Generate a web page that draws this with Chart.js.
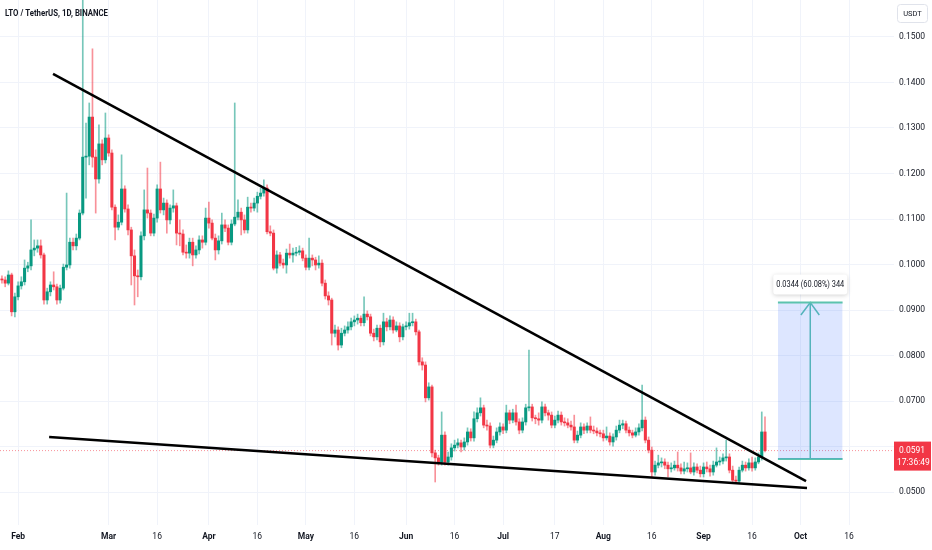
<!DOCTYPE html>
<html>
<head>
<meta charset="utf-8">
<script src="https://cdn.jsdelivr.net/npm/chart.js@4.4.0/dist/chart.umd.min.js"></script>
<style>html,body{margin:0;padding:0;background:#fff}canvas{display:block}</style>
</head>
<body>
<canvas id="chart" width="932" height="550"></canvas>
<script>
// day index: 0 = 1 Feb
const firstDay = -5;

const open = [
  .0968,.0966,.0959,.0977,.0896,.0929,.0953,.0962,.0992,.0997,
  .1032,.1036,.1041,.1021,.0922,.0940,.0955,.0951,.0922,.0948,
  .0994,.0999,.1049,.1041,.1058,.1113,.1236,.1238,.1324,.1236,
  .1188,.1265,.1230,.1278,.1245,.1126,.1082,.1093,.1166,.1122,
  .1076,.1019,.0975,.0973,.1063,.1120,.1113,.1069,.1102,.1166,
  .1120,.1135,.1098,.1124,.1129,.1069,.1067,.1027,.1025,.1049,
  .1021,.1032,.1054,.1049,.1102,.1091,.1058,.1032,.1052,.1087,
  .1080,.1049,.1089,.1104,.1115,.1098,.1076,.1126,.1124,.1135,
  .1150,.1157,.1168,.1072,.1069,.0992,.1021,.1003,.0999,.1025,
  .1021,.1025,.1027,.1030,.1014,.0994,.1014,.1010,.0999,.1003,
  .0959,.0931,.0922,.0849,.0856,.0823,.0849,.0856,.0863,.0874,
  .0878,.0882,.0872,.0891,.0885,.0849,.0841,.0860,.0830,.0874,
  .0863,.0878,.0856,.0865,.0841,.0863,.0865,.0872,.0874,.0852,
  .0786,.0779,.0707,.0731,.0586,.0575,.0566,.0625,.0566,.0577,
  .0597,.0603,.0608,.0599,.0610,.0632,.0619,.0661,.0674,.0685,
  .0647,.0645,.0603,.0614,.0632,.0643,.0636,.0674,.0658,.0674,
  .0654,.0636,.0654,.0685,.0687,.0663,.0661,.0658,.0687,.0674,
  .0669,.0647,.0658,.0669,.0654,.0652,.0647,.0643,.0614,.0625,
  .0643,.0636,.0645,.0636,.0634,.0630,.0628,.0619,.0623,.0610,
  .0621,.0636,.0647,.0650,.0636,.0630,.0625,.0632,.0641,.0658,
  .0614,.0592,.0544,.0559,.0564,.0566,.0559,.0551,.0553,.0559,
  .0553,.0546,.0551,.0553,.0544,.0555,.0548,.0540,.0555,.0551,
  .0544,.0559,.0566,.0568,.0575,.0577,.0548,.0526,.0524,.0548,
  .0559,.0553,.0564,.0553,.0566,.0577,.0632
];
const high = [
  .0975,.0973,.0986,.0981,.0937,.0962,.0973,.1010,.1005,.1098,
  .1054,.1054,.1054,.1025,.0948,.0962,.0984,.0957,.0955,.1001,
  .1157,.1058,.1058,.1067,.1120,.1600,.1311,.1355,.1474,.1252,
  .1307,.1274,.1333,.1285,.1252,.1131,.1109,.1241,.1173,.1131,
  .1082,.1032,.0988,.1072,.1164,.1212,.1120,.1111,.1175,.1225,
  .1146,.1142,.1131,.1164,.1135,.1098,.1076,.1043,.1058,.1058,
  .1041,.1063,.1063,.1124,.1137,.1098,.1067,.1063,.1113,.1098,
  .1087,.1098,.1355,.1142,.1124,.1109,.1148,.1135,.1146,.1159,
  .1168,.1186,.1175,.1085,.1076,.1030,.1027,.1012,.1034,.1045,
  .1036,.1038,.1041,.1036,.1021,.1058,.1021,.1016,.1019,.1010,
  .0966,.0940,.0926,.0867,.0863,.0860,.0865,.0874,.0882,.0887,
  .0891,.0887,.0929,.0898,.0891,.0858,.0867,.0867,.0893,.0882,
  .0887,.0885,.0874,.0872,.0869,.0874,.0893,.0893,.0880,.0856,
  .0795,.0786,.0740,.0735,.0592,.0581,.0676,.0632,.0588,.0606,
  .0614,.0617,.0614,.0619,.0641,.0639,.0676,.0685,.0707,.0691,
  .0658,.0652,.0623,.0641,.0652,.0650,.0691,.0680,.0682,.0691,
  .0661,.0663,.0693,.0812,.0693,.0669,.0674,.0698,.0693,.0680,
  .0676,.0667,.0678,.0676,.0663,.0661,.0656,.0669,.0634,.0652,
  .0650,.0652,.0665,.0645,.0641,.0636,.0636,.0643,.0630,.0628,
  .0645,.0658,.0658,.0656,.0643,.0636,.0641,.0650,.0735,.0665,
  .0621,.0599,.0568,.0581,.0575,.0573,.0566,.0564,.0568,.0588,
  .0562,.0566,.0564,.0586,.0564,.0562,.0557,.0564,.0566,.0559,
  .0568,.0597,.0577,.0584,.0614,.0584,.0557,.0535,.0555,.0568,
  .0566,.0573,.0577,.0575,.0586,.0676,.0665
];
const low = [
  .0959,.0951,.0955,.0887,.0885,.0922,.0946,.0955,.0984,.0988,
  .1019,.1027,.1014,.0913,.0913,.0931,.0944,.0913,.0915,.0944,
  .0988,.0992,.1032,.1032,.1054,.1109,.1146,.1219,.1214,.1113,
  .1179,.1219,.1223,.1238,.1120,.1054,.1076,.1087,.1115,.1065,
  .0955,.0911,.0929,.0966,.1054,.1102,.1063,.1063,.1093,.1113,
  .1109,.1069,.1089,.1115,.1043,.1041,.1021,.1014,.1014,.0997,
  .1014,.1023,.1036,.1043,.1080,.1054,.1010,.1023,.1045,.1072,
  .1043,.1043,.1085,.1098,.1065,.1069,.1069,.1115,.1118,.1115,
  .1144,.1150,.1067,.1063,.0988,.0981,.0997,.0992,.0981,.1014,
  .1005,.1019,.1021,.1008,.0988,.0988,.0997,.0988,.0992,.0953,
  .0924,.0911,.0823,.0841,.0812,.0817,.0843,.0849,.0856,.0865,
  .0869,.0865,.0865,.0878,.0843,.0832,.0834,.0819,.0823,.0854,
  .0856,.0849,.0852,.0830,.0834,.0856,.0858,.0865,.0845,.0779,
  .0768,.0698,.0702,.0577,.0522,.0559,.0559,.0559,.0559,.0570,
  .0590,.0597,.0588,.0592,.0603,.0612,.0612,.0654,.0667,.0641,
  .0636,.0597,.0597,.0608,.0625,.0628,.0630,.0650,.0652,.0647,
  .0628,.0630,.0647,.0678,.0656,.0650,.0647,.0652,.0667,.0658,
  .0641,.0641,.0652,.0647,.0645,.0641,.0636,.0608,.0608,.0619,
  .0628,.0630,.0630,.0628,.0623,.0621,.0612,.0614,.0603,.0601,
  .0614,.0630,.0639,.0630,.0623,.0619,.0621,.0625,.0634,.0608,
  .0586,.0533,.0537,.0553,.0555,.0551,.0533,.0544,.0548,.0546,
  .0540,.0540,.0544,.0540,.0537,.0542,.0533,.0533,.0544,.0535,
  .0537,.0555,.0559,.0562,.0568,.0542,.0522,.0520,.0520,.0544,
  .0546,.0548,.0546,.0548,.0562,.0570,.0588
];
const close = [
  .0966,.0959,.0977,.0896,.0929,.0953,.0962,.0992,.0997,.1032,
  .1036,.1041,.1021,.0922,.0940,.0955,.0951,.0922,.0948,.0994,
  .0999,.1049,.1041,.1058,.1113,.1236,.1238,.1324,.1236,.1188,
  .1265,.1230,.1278,.1245,.1126,.1082,.1093,.1166,.1122,.1076,
  .1019,.0975,.0973,.1063,.1120,.1113,.1069,.1102,.1166,.1120,
  .1135,.1098,.1124,.1129,.1069,.1067,.1027,.1025,.1049,.1021,
  .1032,.1054,.1049,.1102,.1091,.1058,.1032,.1052,.1087,.1080,
  .1049,.1089,.1104,.1115,.1098,.1076,.1126,.1124,.1135,.1150,
  .1157,.1168,.1072,.1069,.0992,.1021,.1003,.0999,.1025,.1021,
  .1025,.1027,.1030,.1014,.0994,.1014,.1010,.0999,.1003,.0959,
  .0931,.0922,.0849,.0856,.0823,.0849,.0856,.0863,.0874,.0878,
  .0882,.0872,.0891,.0885,.0849,.0841,.0860,.0830,.0874,.0863,
  .0878,.0856,.0865,.0841,.0863,.0865,.0872,.0874,.0852,.0786,
  .0779,.0707,.0731,.0586,.0575,.0566,.0625,.0566,.0577,.0597,
  .0603,.0608,.0599,.0610,.0632,.0619,.0661,.0674,.0685,.0647,
  .0645,.0603,.0614,.0632,.0643,.0636,.0674,.0658,.0674,.0654,
  .0636,.0654,.0685,.0687,.0663,.0661,.0658,.0687,.0674,.0669,
  .0647,.0658,.0669,.0654,.0652,.0647,.0643,.0614,.0625,.0643,
  .0636,.0645,.0636,.0634,.0630,.0628,.0619,.0623,.0610,.0621,
  .0636,.0647,.0650,.0636,.0630,.0625,.0632,.0641,.0658,.0614,
  .0592,.0544,.0559,.0564,.0566,.0559,.0551,.0553,.0559,.0553,
  .0546,.0551,.0553,.0544,.0555,.0548,.0540,.0555,.0551,.0544,
  .0559,.0566,.0568,.0575,.0577,.0548,.0526,.0524,.0548,.0559,
  .0553,.0564,.0553,.0566,.0577,.0632,.0591
];
const days = close.map((_, i) => firstDay + i);

const tickDays   = [0, 28, 43, 59, 74, 89, 104, 120, 135, 150, 166, 181, 196, 212, 227, 242, 257];
const tickLabels = ['Feb', 'Mar', '16', 'Apr', '16', 'May', '16', 'Jun', '16', 'Jul', '17', 'Aug', '16', 'Sep', '16', 'Oct', '16'];
const priceTicks = [0.05, 0.06, 0.07, 0.08, 0.09, 0.10, 0.11, 0.12, 0.13, 0.14, 0.15];

// drawn trend lines (day, price)
const upperLineDays = [10.8, 243.7];
const upperLinePrices = [0.1419, 0.0524];
const lowerLineDays = [9.6, 244.0];
const lowerLinePrices = [0.0621, 0.0509];

// measure tool
const targetDays = [235, 255];
const targetBase = 0.05726;
const targetTop = 0.09166;
const arrowDays = [242.1, 245, 247.8];
const arrowPrices = [0.0889, 0.09166, 0.0889];
const targetText = '0.0344 (60.08%) 344';

const lastPrice = 0.0591;
const countdown = '17:36:49';
const title = 'LTO / TetherUS, 1D, BINANCE';

const xMin = -5.6, xMax = 270.9;
const yMin = 0.04275, yMax = 0.15813;

const UP = '#089981', DOWN = '#f23645';
const UP_WICK = 'rgba(8,153,129,0.55)', DOWN_WICK = 'rgba(242,54,69,0.55)';
const TEAL = '#5cc3ae';
const FONT = 'Roboto, "Noto Sans", sans-serif';

const isUp = close.map((c, i) => c >= open[i]);

const overlay = {
  id: 'overlay',
  afterDraw(chart) {
    const { ctx, chartArea } = chart;
    const x = chart.scales.x, y = chart.scales.y;
    ctx.save();

    // title
    ctx.font = 'bold 9.5px ' + FONT;
    ctx.fillStyle = '#131722';
    ctx.textBaseline = 'middle';
    ctx.textAlign = 'left';
    ctx.fillText(title, 5, 14, 103);

    // currency box
    ctx.strokeStyle = '#e0e3eb';
    ctx.lineWidth = 1;
    ctx.fillStyle = '#fff';
    ctx.beginPath();
    ctx.roundRect(897.5, 4.5, 30, 18, 3);
    ctx.fill();
    ctx.stroke();
    ctx.fillStyle = '#131722';
    ctx.font = '7.5px ' + FONT;
    ctx.textAlign = 'center';
    ctx.fillText('USDT', 912.5, 14, 24);

    // measure label
    const cx = x.getPixelForValue((targetDays[0] + targetDays[1]) / 2);
    const ty = y.getPixelForValue(targetTop);
    ctx.save();
    ctx.shadowColor = 'rgba(0,0,0,0.18)';
    ctx.shadowBlur = 4;
    ctx.shadowOffsetY = 1;
    ctx.fillStyle = '#fff';
    ctx.beginPath();
    ctx.roundRect(cx - 37, ty - 28, 74, 20, 3);
    ctx.fill();
    ctx.restore();
    ctx.fillStyle = '#131722';
    ctx.font = '8.5px ' + FONT;
    ctx.fillText(targetText, cx, ty - 18, 68);

    // last price label
    const py = y.getPixelForValue(lastPrice);
    ctx.fillStyle = DOWN;
    ctx.fillRect(chartArea.right, py - 9, 37, 29);
    ctx.fillStyle = '#fff';
    ctx.textAlign = 'left';
    ctx.font = '8.5px ' + FONT;
    ctx.fillText(lastPrice.toFixed(4), chartArea.right + 5, py + 0.5, 30);
    ctx.fillText(countdown, chartArea.right + 3, py + 12.5, 33);

    ctx.restore();
  }
};

new Chart(document.getElementById('chart'), {
  data: {
    datasets: [
      {
        type: 'line', order: 0,
        data: upperLineDays.map((d, i) => ({ x: d, y: upperLinePrices[i] })),
        borderColor: '#000', borderWidth: 2.5, pointRadius: 0
      },
      {
        type: 'line', order: 0,
        data: lowerLineDays.map((d, i) => ({ x: d, y: lowerLinePrices[i] })),
        borderColor: '#000', borderWidth: 2.5, pointRadius: 0
      },
      {
        type: 'bar', order: 1, grouped: false,
        data: days.map((d, i) => ({ x: d, y: [open[i], close[i]] })),
        backgroundColor: isUp.map(u => u ? UP : DOWN),
        barThickness: 2.4, minBarLength: 1, borderWidth: 0
      },
      {
        type: 'bar', order: 2, grouped: false,
        data: days.map((d, i) => ({ x: d, y: [low[i], high[i]] })),
        backgroundColor: isUp.map(u => u ? UP_WICK : DOWN_WICK),
        barThickness: 1, borderWidth: 0
      },
      {
        type: 'line', order: 3,
        data: targetDays.map(d => ({ x: d, y: targetTop })),
        borderColor: TEAL, borderWidth: 2, pointRadius: 0,
        fill: { value: targetBase }, backgroundColor: 'rgba(41,98,255,0.16)'
      },
      {
        type: 'line', order: 3,
        data: targetDays.map(d => ({ x: d, y: targetBase })),
        borderColor: TEAL, borderWidth: 2, pointRadius: 0
      },
      {
        type: 'line', order: 3,
        data: [{ x: arrowDays[1], y: targetBase }, { x: arrowDays[1], y: targetTop }],
        borderColor: TEAL, borderWidth: 1.5, pointRadius: 0
      },
      {
        type: 'line', order: 3,
        data: arrowDays.map((d, i) => ({ x: d, y: arrowPrices[i] })),
        borderColor: TEAL, borderWidth: 1.5, pointRadius: 0
      },
      {
        type: 'line', order: 4,
        data: [{ x: xMin, y: lastPrice }, { x: xMax, y: lastPrice }],
        borderColor: 'rgba(242,54,69,0.55)', borderWidth: 1, borderDash: [1, 2], pointRadius: 0
      }
    ]
  },
  options: {
    responsive: false,
    animation: false,
    devicePixelRatio: 1,
    layout: { padding: 0 },
    plugins: { legend: { display: false }, tooltip: { enabled: false } },
    scales: {
      x: {
        type: 'linear', position: 'bottom', min: xMin, max: xMax, offset: false,
        afterBuildTicks: s => { s.ticks = tickDays.map(v => ({ value: v })); },
        afterFit: s => { s.height = 25; s.paddingLeft = 0; s.paddingRight = 0; },
        grid: { color: '#f0f3fa', drawTicks: false, offset: false },
        border: { display: false },
        ticks: {
          autoSkip: false, maxRotation: 0, padding: 7, color: '#131722',
          callback: v => tickLabels[tickDays.indexOf(v)],
          font: c => ({ family: FONT, size: 8.5, weight: /^\d/.test(tickLabels[c.index] || '') ? 'normal' : 'bold' })
        }
      },
      y: {
        type: 'linear', position: 'right', min: yMin, max: yMax,
        afterBuildTicks: s => { s.ticks = priceTicks.map(v => ({ value: v })); },
        afterFit: s => { s.width = 38; s.paddingTop = 0; s.paddingBottom = 0; },
        grid: { color: '#f0f3fa', drawTicks: false },
        border: { display: false },
        ticks: {
          padding: 5, color: '#131722',
          font: { family: FONT, size: 8.5 },
          callback: v => v.toFixed(4)
        }
      }
    }
  },
  plugins: [overlay]
});
</script>
</body>
</html>
